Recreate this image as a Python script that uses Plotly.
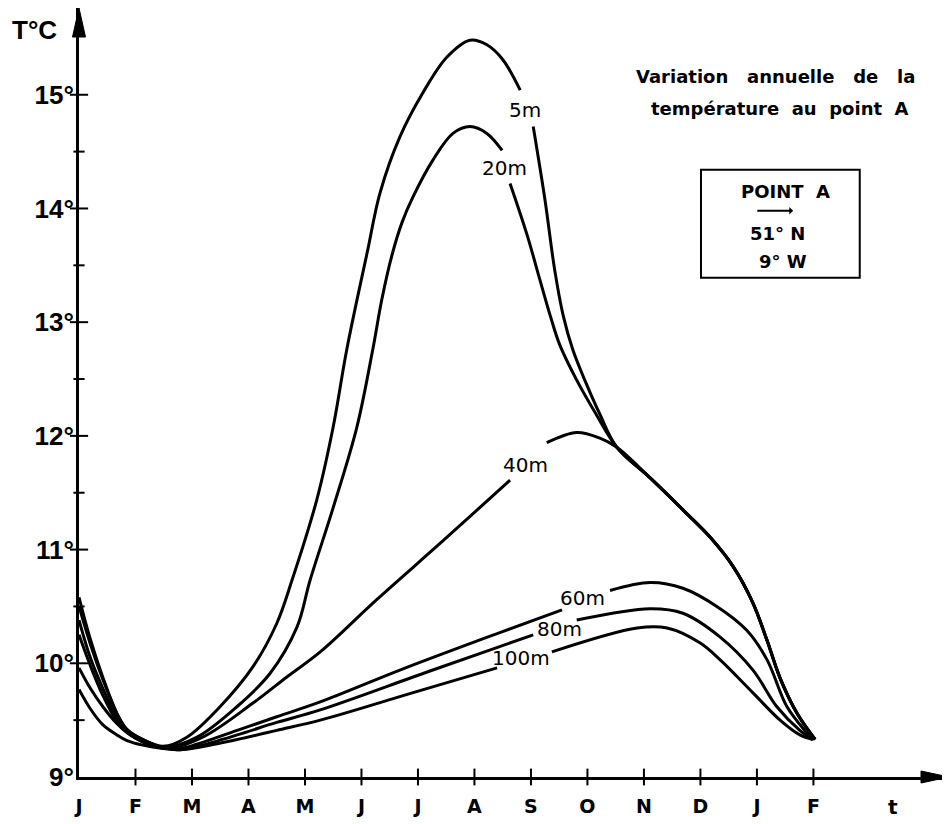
import plotly.graph_objects as go

# ---------------- data ----------------
month_ticks = list(range(14))
month_labels = ["J", "F", "M", "A", "M", "J", "J", "A", "S", "O", "N", "D", "J", "F"]
temp_major = [9, 10, 11, 12, 13, 14, 15]
temp_labels = ["9°", "10°", "11°", "12°", "13°", "14°", "15°"]
temp_minor = [9.5, 10.5, 11.5, 12.5, 13.5, 14.5]

# merged autumn branch shared by 5 m, 20 m (and 40 m)
m_merge = [9.52, 10.11, 10.73, 11.17, 11.58, 11.93, 12.18, 12.41, 12.71, 13.03]
t_merge = [11.90, 11.63, 11.33, 11.11, 10.85, 10.53, 10.20, 9.87, 9.56, 9.33]

m_5 = [0, 0.19, 0.42, 0.67, 0.85, 1.13, 1.49,
       1.91, 2.50, 3.08, 3.50, 3.77, 4.21, 4.50, 4.74, 5.10, 5.33, 5.68, 6.09, 6.51,
       6.92, 7.22, 7.50, 7.81, None,
       8.04, 8.25, 8.42, 8.57, 8.74, 8.97, 9.22] + m_merge
t_5 = [10.58, 10.23, 9.88, 9.56, 9.41, 9.33, 9.27,
       9.35, 9.62, 9.97, 10.35, 10.73, 11.44, 12.08, 12.76, 13.61, 14.14, 14.63, 15.02, 15.33,
       15.48, 15.44, 15.31, 15.04, None,
       14.72, 14.07, 13.46, 13.06, 12.76, 12.47, 12.19] + t_merge

m_20 = [0, 0.2, 0.42, 0.67, 0.85, 1.13, 1.52,
        2.09, 2.80, 3.38, 3.86, 4.09, 4.50, 4.92, 5.20, 5.36, 5.54, 5.72, 5.91, 6.27,
        6.62, 6.92, 7.22, 7.49, None,
        7.63, 7.93, 8.16, 8.34, 8.51, 8.81, 9.13] + m_merge
t_20 = [10.50, 10.17, 9.86, 9.56, 9.42, 9.33, 9.26,
        9.35, 9.62, 9.91, 10.32, 10.73, 11.37, 12.08, 12.76, 13.20, 13.59, 13.88, 14.10, 14.43,
        14.66, 14.72, 14.66, 14.51, None,
        14.22, 13.77, 13.37, 13.06, 12.80, 12.49, 12.21] + t_merge

m_40 = [0, 0.2, 0.42, 0.67, 0.85, 1.13, 1.55,
        2.19, 3.08, 3.68, 4.27, 5.27, 6.45, 7.63, None,
        8.28, 8.81, 9.22] + m_merge
t_40 = [10.38, 10.05, 9.78, 9.52, 9.40, 9.31, 9.25,
        9.35, 9.65, 9.88, 10.10, 10.56, 11.08, 11.61, None,
        11.94, 12.03, 11.98] + t_merge

m_60 = [0, 0.2, 0.42, 0.67, 0.85, 1.13, 1.49, 1.79,
        2.1, 2.8, 3.5, 4.27, 5.68, 7.45, 8.55, None,
        9.40, 10.11, 10.69, 11.29, 11.82, 12.18, 12.53, 12.88, 12.99]
t_60 = [10.25, 9.98, 9.72, 9.49, 9.39, 9.31, 9.26, 9.25,
        9.29, 9.41, 9.53, 9.66, 9.94, 10.27, 10.47, None,
        10.64, 10.71, 10.66, 10.50, 10.29, 10.03, 9.62, 9.39, 9.33]

m_80 = [0, 0.2, 0.42, 0.67, 0.85, 1.13, 1.49, 1.79,
        2.1, 2.8, 3.5, 4.27, 6.2, 8.04, None,
        8.81, 10.11, 10.69, 11.35, 11.93, 12.35, 12.76, 12.99]
t_80 = [9.96, 9.78, 9.62, 9.47, 9.39, 9.31, 9.26, 9.24,
        9.27, 9.37, 9.48, 9.59, 9.93, 10.25, None,
        10.38, 10.48, 10.44, 10.23, 9.94, 9.62, 9.41, 9.33]

m_100 = [0, 0.2, 0.42, 0.67, 0.85, 1.13, 1.49, 1.79,
         2.1, 2.8, 3.5, 4.27, 5.9, 7.40, None,
         8.37, 9.88, 10.41, 10.99, 11.35, 11.93, 12.41, 12.76, 12.99]
t_100 = [9.77, 9.60, 9.46, 9.37, 9.32, 9.28, 9.25, 9.24,
         9.26, 9.33, 9.41, 9.50, 9.74, 9.96, None,
         10.10, 10.31, 10.31, 10.18, 10.03, 9.74, 9.50, 9.37, 9.33]

depth_names = ["5m", "20m", "40m", "60m", "80m", "100m"]
label_m = [7.89, 7.54, 7.91, 8.92, 8.51, 7.82]
label_t = [14.87, 14.36, 11.74, 10.57, 10.30, 10.05]

series = [(m_5, t_5), (m_20, t_20), (m_40, t_40), (m_60, t_60), (m_80, t_80), (m_100, t_100)]

# ---------------- figure ----------------
X_MAX = 15.4
Y_MIN, Y_MAX = 9.0, 15.763
FONT = "DejaVu Sans"

fig = go.Figure()

for name, (mx, ty) in zip(depth_names, series):
    fig.add_trace(go.Scatter(
        x=mx, y=ty, mode="lines", name=name,
        line=dict(color="black", width=3, shape="spline", smoothing=1.0),
        connectgaps=False, showlegend=False, hoverinfo="skip",
    ))

# tick marks crossing the axes
fig.add_trace(go.Scatter(
    x=month_ticks[1:], y=[Y_MIN] * (len(month_ticks) - 1), mode="markers",
    marker=dict(symbol="line-ns-open", size=12, color="black", line=dict(color="black", width=2)),
    cliponaxis=False, showlegend=False, hoverinfo="skip"))
fig.add_trace(go.Scatter(
    x=[0] * (len(temp_major) - 1), y=temp_major[1:], mode="markers",
    marker=dict(symbol="line-ew-open", size=13, color="black", line=dict(color="black", width=2)),
    cliponaxis=False, showlegend=False, hoverinfo="skip"))
fig.add_trace(go.Scatter(
    x=[0] * len(temp_minor), y=temp_minor, mode="markers",
    marker=dict(symbol="line-ew-open", size=8, color="black", line=dict(color="black", width=2)),
    cliponaxis=False, showlegend=False, hoverinfo="skip"))

annotations = []
for name, lm, lt in zip(depth_names, label_m, label_t):
    annotations.append(dict(x=lm, y=lt, text=name, showarrow=False,
                            font=dict(family=FONT, size=20, color="black")))

SP3 = "\u00a0\u00a0\u00a0"
SP2 = "\u00a0\u00a0"
annotations += [
    dict(x=-0.0506, y=0.9714, xref="paper", yref="paper", xanchor="center", yanchor="middle",
         text="<b>T°C</b>", showarrow=False,
         font=dict(family="Liberation Sans", size=26, color="black")),
    dict(x=14.41, y=Y_MIN, yshift=-30, text="<b>t</b>", showarrow=False,
         font=dict(family=FONT, size=20, color="black")),
    dict(x=12.32, y=15.16, text="<b>Variation" + SP3 + "annuelle" + SP3 + "de" + SP3 + "la</b>",
         showarrow=False, font=dict(family=FONT, size=18, color="black")),
    dict(x=12.41, y=14.875, text="<b>température" + SP2 + "au" + SP2 + "point" + SP2 + "A</b>",
         showarrow=False, font=dict(family=FONT, size=18, color="black")),
    dict(x=12.50, y=14.145, text="<b>POINT" + SP2 + "A</b>", showarrow=False,
         font=dict(family=FONT, size=18, color="black")),
    dict(x=12.37, y=13.78, text="<b>51°\u00a0N</b>", showarrow=False,
         font=dict(family=FONT, size=18, color="black")),
    dict(x=12.46, y=13.53, text="<b>9°\u00a0W</b>", showarrow=False,
         font=dict(family=FONT, size=18, color="black")),
    dict(x=12.64, y=13.98, ax=11.98, ay=13.98, axref="x", ayref="y", xref="x", yref="y",
         text="", showarrow=True, arrowhead=1, arrowsize=0.7, arrowwidth=1.8, arrowcolor="black"),
]

shapes = [
    dict(type="rect", xref="x", yref="y", x0=11.01, x1=13.82, y0=13.39, y1=14.34,
         line=dict(color="black", width=2)),
    # axis arrowheads
    dict(type="path", xref="paper", yref="paper", xsizemode="pixel", ysizemode="pixel",
         xanchor=0, yanchor=1, path="M0,0 L-6.5,-29 L6.5,-29 Z",
         fillcolor="black", line=dict(color="black", width=1)),
    dict(type="path", xref="paper", yref="paper", xsizemode="pixel", ysizemode="pixel",
         xanchor=1, yanchor=0, path="M0,0 L-28,6 L-28,-6 Z",
         fillcolor="black", line=dict(color="black", width=1)),
]

fig.update_layout(
    width=942, height=816,
    margin=dict(l=71, r=1, t=0, b=47),
    paper_bgcolor="white", plot_bgcolor="white",
    showlegend=False,
    annotations=annotations,
    shapes=shapes,
    xaxis=dict(range=[0, X_MAX], showgrid=False, zeroline=False, showline=True,
               automargin=False,
               linecolor="black", linewidth=3, ticks="",
               tickmode="array", tickvals=month_ticks, ticktext=month_labels,
               ticklabelstandoff=10,
               tickfont=dict(family=FONT, size=19, color="black", weight="bold")),
    yaxis=dict(range=[Y_MIN, Y_MAX], showgrid=False, zeroline=False, showline=True,
               automargin=False,
               linecolor="black", linewidth=3, ticks="",
               tickmode="array", tickvals=temp_major, ticktext=temp_labels,
               ticklabelstandoff=-3,
               tickfont=dict(family="Liberation Sans", size=26, color="black", weight="bold")),
)

fig.write_html("out.html")
